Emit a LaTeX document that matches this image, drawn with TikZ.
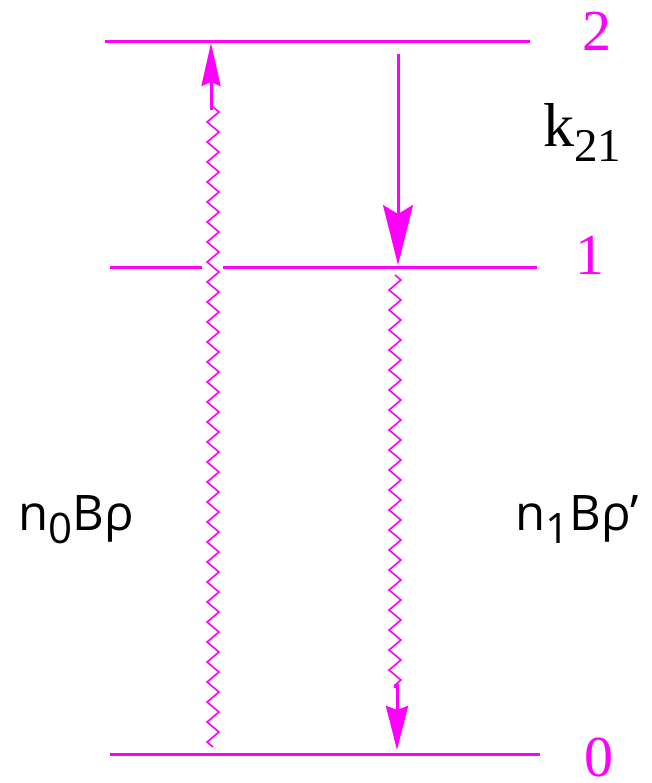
\documentclass[tikz,border=0pt]{standalone}
\usepackage{fontspec}
\setmainfont{Liberation Serif}
\newfontfamily\sansf{Open Sans}
\usetikzlibrary{arrows.meta,decorations.pathmorphing}
\definecolor{mag}{RGB}{255,0,255}
\begin{document}
\begin{tikzpicture}[x=1pt,y=-1pt,
  lvl/.style={draw=mag,line width=3pt},
  wavy/.style={draw=mag,line width=1.6pt,decorate,decoration={zigzag,segment length=20pt,amplitude=6pt}},
  shaft/.style={draw=mag,line width=3pt},
  lvllab/.style={text=mag,font=\fontsize{58}{58}\selectfont,inner sep=0pt},
  sanslab/.style={font=\sansf\fontsize{49}{49}\selectfont,inner sep=0pt,anchor=base west}]
\useasboundingbox (0,0) rectangle (652,783);
% levels
\coordinate (L2a) at (105,42); \coordinate (L2b) at (530,42);
\coordinate (L1a) at (110,267); \coordinate (L1g1) at (202,267);
\coordinate (L1g2) at (223,267); \coordinate (L1b) at (537,267);
\coordinate (L0a) at (110,754); \coordinate (L0b) at (540,754);
\draw[lvl] (L2a) -- (L2b);
\draw[lvl] (L1a) -- (L1g1);
\draw[lvl] (L1g2) -- (L1b);
\draw[lvl] (L0a) -- (L0b);
% up absorption
\coordinate (u0) at (213,747); \coordinate (u1) at (213,107);
\coordinate (u2) at (211,110); \coordinate (u3) at (211,43);
\draw[wavy] (u0) -- (u1);
\draw[shaft,-{Stealth[length=43pt,width=19pt,inset=4pt]}] (u2) -- (u3);
% k21 decay
\coordinate (d0) at (398,54); \coordinate (d1) at (398,265);
\draw[shaft,-{Stealth[length=60pt,width=30pt,inset=9pt]}] (d0) -- (d1);
% stimulated emission
\coordinate (w0) at (395,275); \coordinate (w1) at (395,688);
\coordinate (w2) at (397,684); \coordinate (w3) at (397,750);
\draw[wavy] (w0) -- (w1);
\draw[shaft,-{Stealth[length=44pt,width=22pt,inset=4pt]}] (w2) -- (w3);
% labels
\node[lvllab] (n2) at (597,31) {2};
\node[lvllab] (n1) at (590,255) {1};
\node[lvllab] (n0) at (599,757) {0};
\node[inner sep=0pt,anchor=base west] (k) at (543,147)
  {\fontsize{62}{62}\selectfont k\raisebox{-15pt}{\fontsize{47}{47}\selectfont 21}};
\node[sanslab] (a) at (18,530) {n\raisebox{-13pt}{\fontsize{42}{42}\selectfont 0}Bρ};
\node[sanslab] (b) at (515,530) {n\raisebox{-13pt}{\fontsize{42}{42}\selectfont 1}Bρ’};
\end{tikzpicture}
\end{document}
